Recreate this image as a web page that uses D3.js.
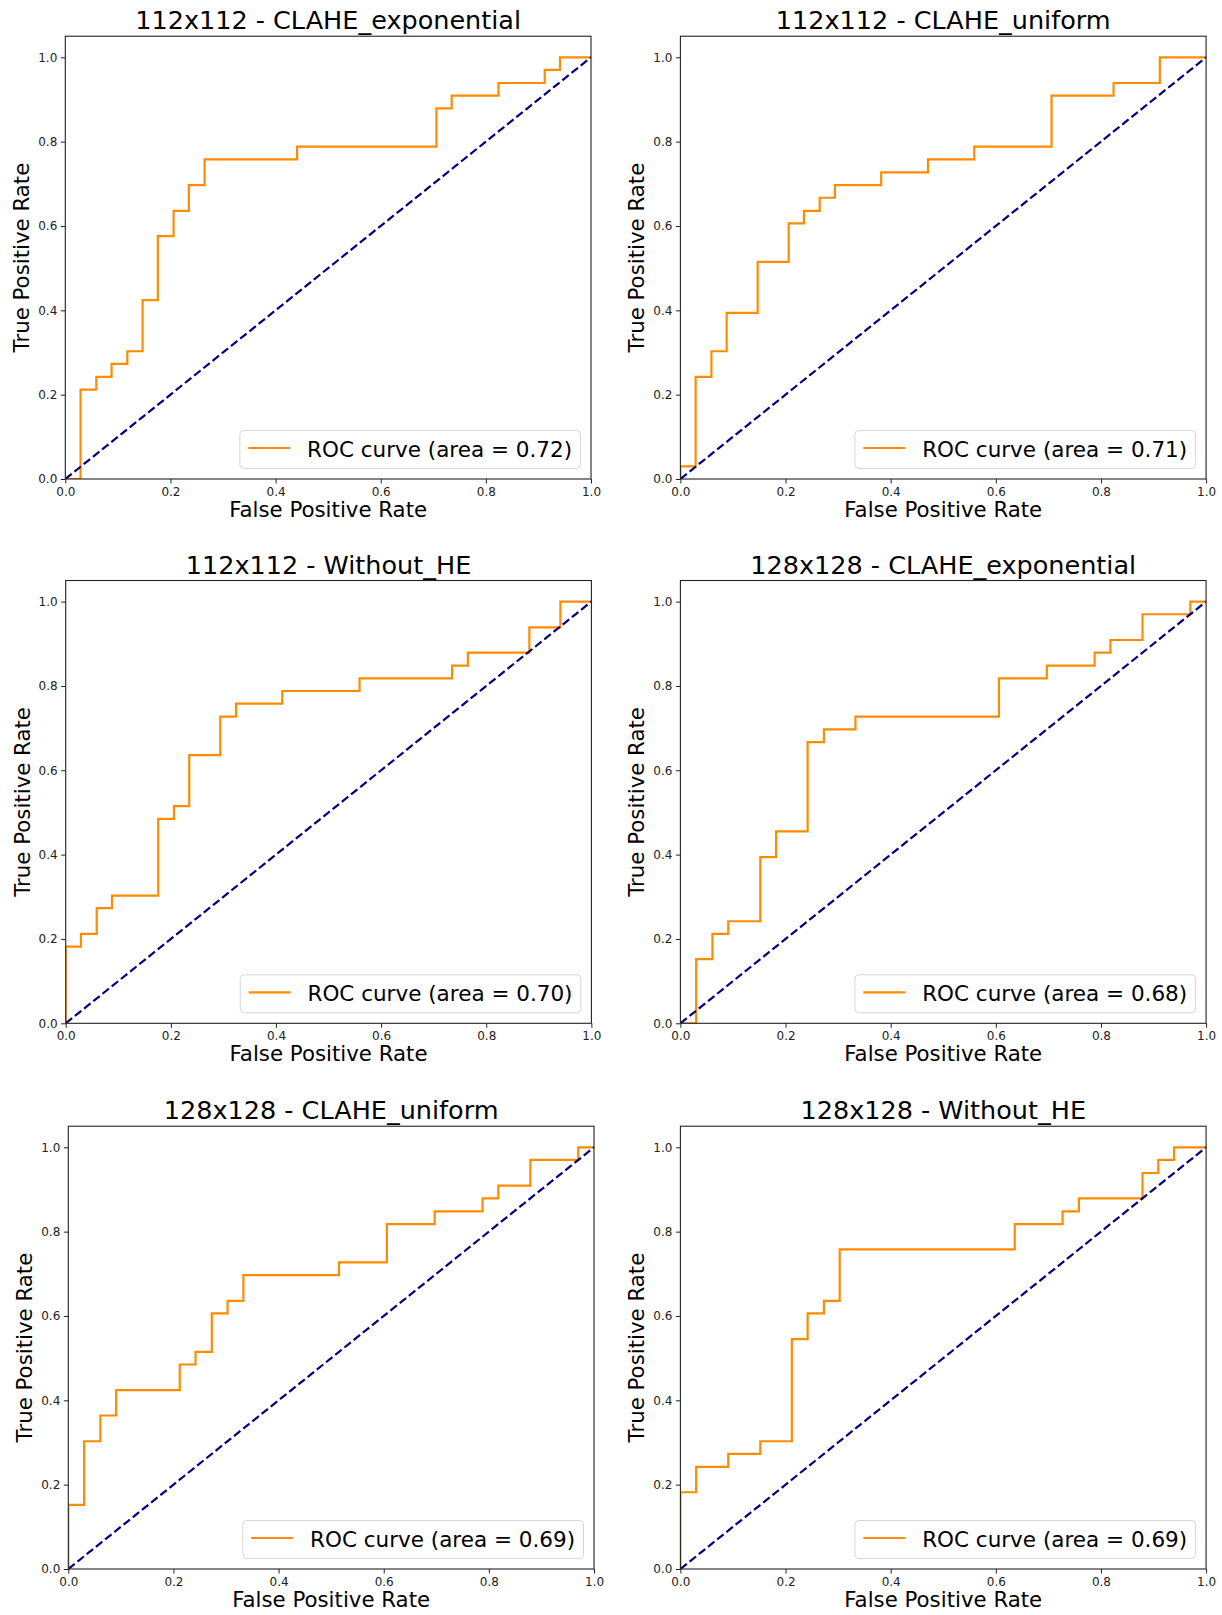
<!DOCTYPE html>
<html>
<head>
<meta charset="utf-8">
<script src="https://cdn.jsdelivr.net/npm/d3@7"></script>
<style>
  body { margin: 0; background: #fff; }
  svg { display: block; font-family: "DejaVu Sans", sans-serif; }
</style>
</head>
<body>
<div id="chart"></div>
<script>
// Panel titles and AUC values, in the order they are laid out (row by row).
var titles = [
  "112x112 - CLAHE_exponential", "112x112 - CLAHE_uniform",
  "112x112 - Without_HE", "128x128 - CLAHE_exponential",
  "128x128 - CLAHE_uniform", "128x128 - Without_HE"
];
var aucs = [0.72, 0.71, 0.70, 0.68, 0.69, 0.69];

// ROC step points (threshold jumps).
var fpr112Exp = [0, 0.029, 0.059, 0.088, 0.118, 0.147, 0.176, 0.206, 0.235, 0.265, 0.441, 0.706, 0.735, 0.824, 0.912, 0.941, 1.0];
var tpr112Exp = [0, 0.212, 0.242, 0.273, 0.303, 0.424, 0.576, 0.636, 0.697, 0.758, 0.788, 0.879, 0.909, 0.939, 0.970, 1.0, 1.0];

var fpr112Uni = [0, 0, 0.029, 0.059, 0.088, 0.147, 0.206, 0.235, 0.265, 0.294, 0.382, 0.471, 0.559, 0.706, 0.824, 0.912, 1.0];
var tpr112Uni = [0, 0.030, 0.242, 0.303, 0.394, 0.515, 0.606, 0.636, 0.667, 0.697, 0.727, 0.758, 0.788, 0.909, 0.939, 1.0, 1.0];

var fpr112Raw = [0, 0, 0.029, 0.059, 0.088, 0.176, 0.206, 0.235, 0.294, 0.324, 0.412, 0.559, 0.735, 0.765, 0.882, 0.941, 1.0];
var tpr112Raw = [0, 0.182, 0.212, 0.273, 0.303, 0.485, 0.515, 0.636, 0.727, 0.758, 0.788, 0.818, 0.848, 0.879, 0.939, 1.0, 1.0];

var fpr128Exp = [0, 0.030, 0.061, 0.091, 0.152, 0.182, 0.242, 0.273, 0.333, 0.606, 0.697, 0.788, 0.818, 0.879, 0.970, 1.0];
var tpr128Exp = [0, 0.152, 0.212, 0.242, 0.394, 0.455, 0.667, 0.697, 0.727, 0.818, 0.848, 0.879, 0.909, 0.970, 1.0, 1.0];

var fpr128Uni = [0, 0, 0.030, 0.061, 0.091, 0.212, 0.242, 0.273, 0.303, 0.333, 0.515, 0.606, 0.697, 0.788, 0.818, 0.879, 0.970, 1.0];
var tpr128Uni = [0, 0.152, 0.303, 0.364, 0.424, 0.485, 0.515, 0.606, 0.636, 0.697, 0.727, 0.818, 0.848, 0.879, 0.909, 0.970, 1.0, 1.0];

var fpr128Raw = [0, 0, 0.030, 0.091, 0.152, 0.212, 0.242, 0.273, 0.303, 0.636, 0.727, 0.758, 0.879, 0.909, 0.939, 1.0];
var tpr128Raw = [0, 0.182, 0.242, 0.273, 0.303, 0.545, 0.606, 0.636, 0.758, 0.818, 0.848, 0.879, 0.939, 0.970, 1.0, 1.0];

var fprs = [fpr112Exp, fpr112Uni, fpr112Raw, fpr128Exp, fpr128Uni, fpr128Raw];
var tprs = [tpr112Exp, tpr112Uni, tpr112Raw, tpr128Exp, tpr128Uni, tpr128Raw];

var tickValues = [0, 0.2, 0.4, 0.6, 0.8, 1.0];

// Layout: left edge and bottom (y = 0) of each axes box, in pixels.
var width = 1222,
    height = 1615,
    plotW = 525.7,
    unitH = 421.7,
    lefts = [65.3, 680.4, 65.7, 680.4, 68.3, 680.4],
    bottoms = [479, 479, 1023.3, 1023.3, 1569, 1569],
    fontSize = 21.3,
    legendFont = 21.5;

var svg = d3.select("#chart").append("svg")
  .attr("width", width)
  .attr("height", height);

svg.append("rect")
  .attr("width", width)
  .attr("height", height)
  .attr("fill", "#fff");

titles.forEach(function (title, i) {
  var x0 = lefts[i],
      y0 = bottoms[i],
      x = d3.scaleLinear().domain([0, 1]).range([x0, x0 + plotW]),
      y = d3.scaleLinear().domain([0, 1.05]).range([y0, y0 - unitH * 1.05]),
      g = svg.append("g");

  var clipId = "clip" + i;
  svg.append("clipPath").attr("id", clipId)
    .append("rect")
      .attr("x", x(0))
      .attr("y", y(1.05))
      .attr("width", x(1) - x(0))
      .attr("height", y(0) - y(1.05));

  var plot = g.append("g").attr("clip-path", "url(#" + clipId + ")");

  // ROC curve, drawn as steps.
  var points = fprs[i].map(function (f, k) { return [f, tprs[i][k]]; });
  var line = d3.line()
    .x(function (d) { return x(d[0]); })
    .y(function (d) { return y(d[1]); })
    .curve(d3.curveStepAfter);

  plot.append("path")
    .attr("d", line(points))
    .attr("fill", "none")
    .attr("stroke", "#ff8c00")
    .attr("stroke-width", 2.2);

  // Chance diagonal.
  plot.append("path")
    .attr("d", d3.line()([[x(0), y(0)], [x(1), y(1)]]))
    .attr("fill", "none")
    .attr("stroke", "#000080")
    .attr("stroke-width", 2.2)
    .attr("stroke-dasharray", "8.2,3.6");

  // Axes.
  var xAxis = g.append("g")
    .attr("transform", "translate(0," + y(0) + ")")
    .call(d3.axisBottom(x).tickValues(tickValues).tickFormat(d3.format(".1f"))
      .tickSize(4.5).tickPadding(3.5));
  var yAxis = g.append("g")
    .attr("transform", "translate(" + x(0) + ",0)")
    .call(d3.axisLeft(y).tickValues(tickValues).tickFormat(d3.format(".1f"))
      .tickSize(4.5).tickPadding(3.5));

  [xAxis, yAxis].forEach(function (ax) {
    ax.select(".domain").remove();
    ax.selectAll("line").attr("stroke", "#222").attr("stroke-width", 1);
    ax.selectAll("text")
      .attr("fill", "#222")
      .style("font-size", "12px")
      .style("font-family", "DejaVu Sans, sans-serif");
  });

  // Frame (spines).
  g.append("rect")
    .attr("x", x(0))
    .attr("y", y(1.05))
    .attr("width", x(1) - x(0))
    .attr("height", y(0) - y(1.05))
    .attr("fill", "none")
    .attr("stroke", "#222")
    .attr("stroke-width", 1.1);

  // Title and axis labels.
  g.append("text")
    .attr("x", (x(0) + x(1)) / 2)
    .attr("y", y(1.05) - 7)
    .attr("text-anchor", "middle")
    .style("font-size", "25.5px")
    .attr("fill", "#000")
    .text(title);

  g.append("text")
    .attr("x", (x(0) + x(1)) / 2)
    .attr("y", y(0) + 38)
    .attr("text-anchor", "middle")
    .style("font-size", fontSize + "px")
    .attr("fill", "#000")
    .text("False Positive Rate");

  g.append("text")
    .attr("transform", "translate(" + (x(0) - 36) + "," + ((y(0) + y(1.05)) / 2) + ") rotate(-90)")
    .attr("text-anchor", "middle")
    .style("font-size", fontSize + "px")
    .attr("fill", "#000")
    .text("True Positive Rate");

  // Legend, lower right.
  var legend = g.append("g");
  var box = legend.append("rect")
    .attr("fill", "#fff")
    .attr("fill-opacity", 0.8)
    .attr("stroke", "#d6d6d6")
    .attr("stroke-width", 1)
    .attr("rx", 4).attr("ry", 4);
  var label = legend.append("text")
    .style("font-size", legendFont + "px")
    .attr("fill", "#000")
    .text("ROC curve (area = " + aucs[i].toFixed(2) + ")");

  var pad = 0.5 * 21,
      border = 0.4 * 21,
      handle = 2.0 * 21,
      gap = 0.8 * 21,
      textW = label.node().getComputedTextLength(),
      boxW = border + handle + gap + textW + border,
      boxH = 38,
      bx = x(1) - pad - boxW,
      by = y(0) - pad - boxH,
      cy = by + boxH / 2;

  box.attr("x", bx).attr("y", by).attr("width", boxW).attr("height", boxH);
  legend.append("line")
    .attr("x1", bx + border)
    .attr("x2", bx + border + handle)
    .attr("y1", cy - 1.5)
    .attr("y2", cy - 1.5)
    .attr("stroke", "#ff8c00")
    .attr("stroke-width", 2.2);
  label
    .attr("x", bx + border + handle + gap)
    .attr("y", cy + 7);
});
</script>
</body>
</html>
